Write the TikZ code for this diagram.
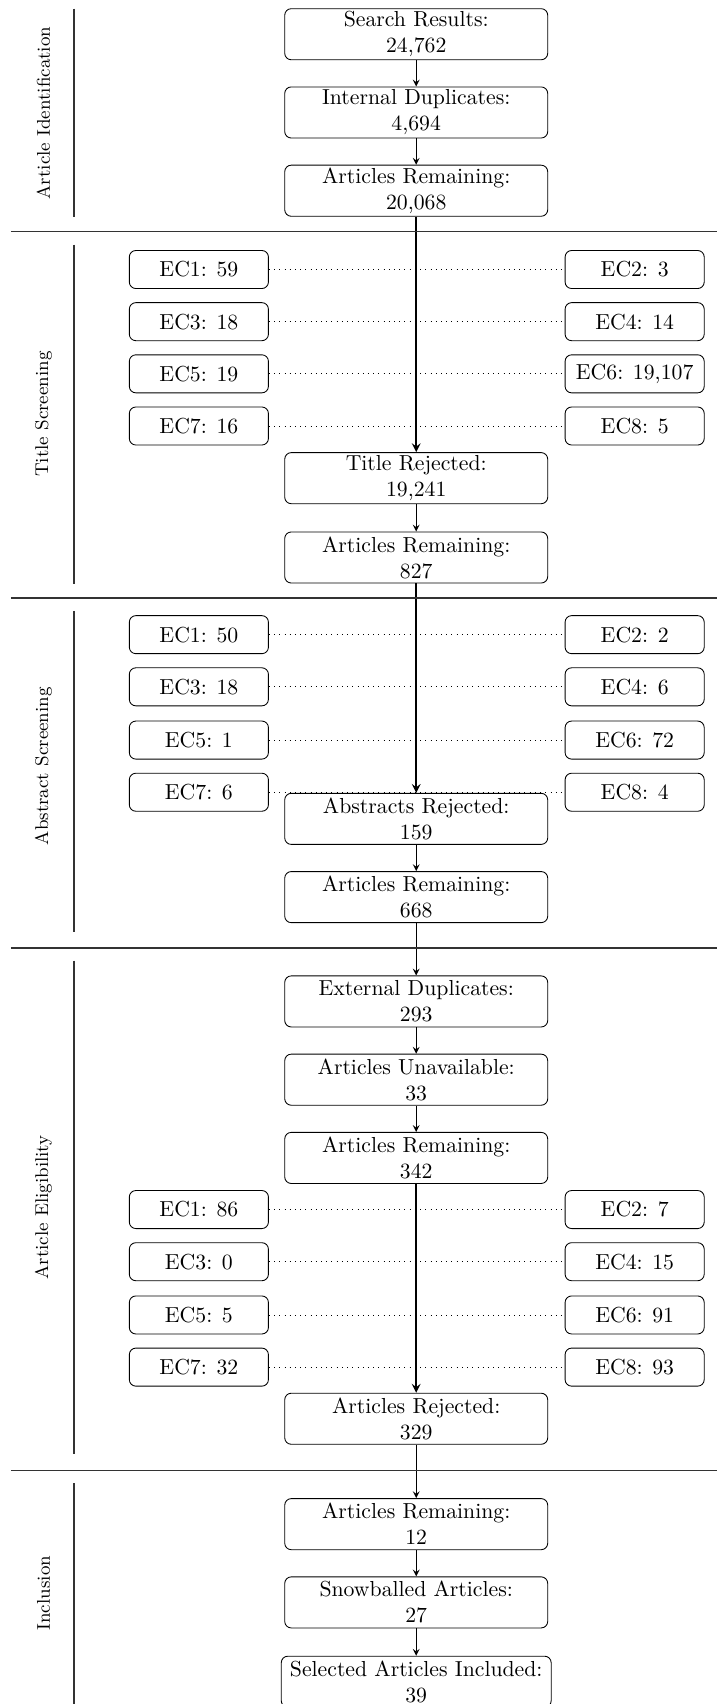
\documentclass[tikz,border=0pt]{standalone}
\usepackage{tikz}
\usetikzlibrary{shapes,arrows,positioning,calc,arrows.meta}

\begin{document}
\begin{tikzpicture}[x=0.5pt, y=-0.5pt,
    flow block/.style={rectangle, draw, rounded corners=3pt, minimum width=121pt, minimum height=23.5pt, inner xsep=4pt, inner ysep=1pt, align=center},
    ec block/.style={rectangle, draw, rounded corners=3pt, minimum width=64pt, minimum height=17.5pt, inner sep=1pt, align=center},
    phase label/.style={rotate=90, font=\fontsize{8.5}{10}\selectfont},
    flow arrow/.style={->, >=stealth},
    trunk arrow/.style={->, >=stealth, line width=0.8pt},
    ec link/.style={dotted},
    phase line/.style={line width=0.8pt, draw=black!80}]

    \useasboundingbox (0,0) rectangle (659,1568);

    % Article identification
    \node [flow block] (sr) at (383,31.5) {Search Results:\\24,762};
    \node [flow block] (idup) at (383,103.5) {Internal Duplicates:\\4,694};
    \node [flow block] (ar1) at (383,175.5) {Articles Remaining:\\20,068};
    \draw [flow arrow] (sr) -- (idup);
    \draw [flow arrow] (idup) -- (ar1);

    % Title screening
    \node [ec block] (tec1) at (183,248) {EC1: 59};
    \node [ec block] (tec2) at (584,248) {EC2: 3};
    \node [ec block] (tec3) at (183,296) {EC3: 18};
    \node [ec block] (tec4) at (584,296) {EC4: 14};
    \node [ec block] (tec5) at (183,344) {EC5: 19};
    \node [ec block] (tec6) at (584,344) {EC6: 19,107};
    \node [ec block] (tec7) at (183,392) {EC7: 16};
    \node [ec block] (tec8) at (584,392) {EC8: 5};
    \draw [ec link] (tec1) -- (tec2);
    \draw [ec link] (tec3) -- (tec4);
    \draw [ec link] (tec5) -- (tec6);
    \draw [ec link] (tec7) -- (tec8);
    \node [flow block] (trej) at (383,440) {Title Rejected:\\19,241};
    \node [flow block] (ar2) at (383,513) {Articles Remaining:\\827};
    \draw [trunk arrow] (ar1) -- (trej);
    \draw [flow arrow] (trej) -- (ar2);

    % Abstract screening
    \node [ec block] (aec1) at (183,584) {EC1: 50};
    \node [ec block] (aec2) at (584,584) {EC2: 2};
    \node [ec block] (aec3) at (183,632) {EC3: 18};
    \node [ec block] (aec4) at (584,632) {EC4: 6};
    \node [ec block] (aec5) at (183,681) {EC5: 1};
    \node [ec block] (aec6) at (584,681) {EC6: 72};
    \node [ec block] (aec7) at (183,729) {EC7: 6};
    \node [ec block] (aec8) at (584,729) {EC8: 4};
    \draw [ec link] (aec1) -- (aec2);
    \draw [ec link] (aec3) -- (aec4);
    \draw [ec link] (aec5) -- (aec6);
    \draw [ec link] (aec7) -- (aec8);
    \node [flow block] (arej) at (383,753.5) {Abstracts Rejected:\\159};
    \node [flow block] (ar3) at (383,825.5) {Articles Remaining:\\668};
    \draw [trunk arrow] (ar2) -- (arej);
    \draw [flow arrow] (arej) -- (ar3);

    % Article eligibility
    \node [flow block] (edup) at (383,921.5) {External Duplicates:\\293};
    \node [flow block] (unav) at (383,993.5) {Articles Unavailable:\\33};
    \node [flow block] (ar4) at (383,1065.5) {Articles Remaining:\\342};
    \draw [flow arrow] (ar3) -- (edup);
    \draw [flow arrow] (edup) -- (unav);
    \draw [flow arrow] (unav) -- (ar4);
    \node [ec block] (eec1) at (183,1113) {EC1: 86};
    \node [ec block] (eec2) at (584,1113) {EC2: 7};
    \node [ec block] (eec3) at (183,1161) {EC3: 0};
    \node [ec block] (eec4) at (584,1161) {EC4: 15};
    \node [ec block] (eec5) at (183,1210) {EC5: 5};
    \node [ec block] (eec6) at (584,1210) {EC6: 91};
    \node [ec block] (eec7) at (183,1258) {EC7: 32};
    \node [ec block] (eec8) at (584,1258) {EC8: 93};
    \draw [ec link] (eec1) -- (eec2);
    \draw [ec link] (eec3) -- (eec4);
    \draw [ec link] (eec5) -- (eec6);
    \draw [ec link] (eec7) -- (eec8);
    \node [flow block] (rej) at (383,1305.5) {Articles Rejected:\\329};
    \draw [trunk arrow] (ar4) -- (rej);

    % Inclusion
    \node [flow block] (ar5) at (383,1402.5) {Articles Remaining:\\12};
    \node [flow block] (snow) at (383,1474.5) {Snowballed Articles:\\27};
    \node [flow block] (sel) at (383,1547.5) {Selected Articles Included:\\39};
    \draw [flow arrow] (rej) -- (ar5);
    \draw [flow arrow] (ar5) -- (snow);
    \draw [flow arrow] (snow) -- (sel);

    % phase labels and rules
    \node [phase label] (pid) at (40,104) {Article Identification};
    \node [phase label] (pts) at (40,381) {Title Screening};
    \node [phase label] (pas) at (40,705) {Abstract Screening};
    \node [phase label] (pel) at (40,1111) {Article Eligibility};
    \node [phase label] (pin) at (40,1466) {Inclusion};
    \draw [phase line] (68,8) -- (68,200);
    \draw [phase line] (68,225) -- (68,537);
    \draw [phase line] (68,562) -- (68,858);
    \draw [phase line] (68,884) -- (68,1338);
    \draw [phase line] (68,1365) -- (68,1580);
    \draw [phase line] (10,213) -- (665,213);
    \draw [phase line] (10,550) -- (665,550);
    \draw [phase line] (10,872) -- (665,872);
    \draw [phase line] (10,1353) -- (665,1353);

\end{tikzpicture}
\end{document}
